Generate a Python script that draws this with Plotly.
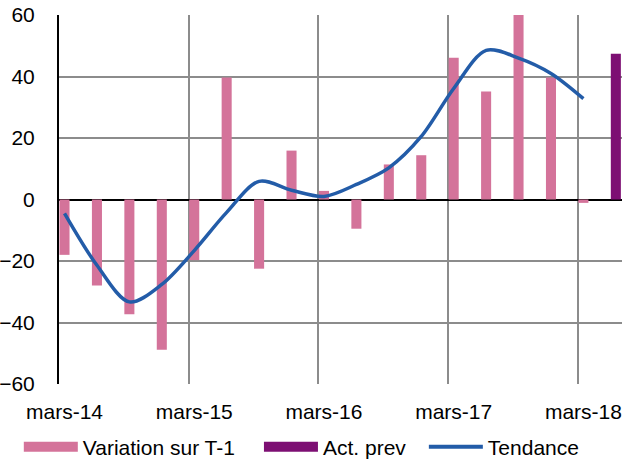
import plotly.graph_objects as go

# Quarterly change vs previous quarter, mars-14 .. juin-18
quarters = list(range(18))
variation = [-18, -28, -37.3, -48.9, -19.7, 39.7, -22.5, 15.9, 2.8, -9.5,
             11.4, 14.4, 46.1, 35.1, 60, 39.7, -1.1, None]
act_prev = [None] * 17 + [47.4]
tendance_x = list(range(17))
tendance = [-4.5, -21.4, -33.3, -27.6, -16.6, -4.2, 5.9, 3.0, 1.0, 4.9,
            10.3, 20.5, 36.1, 48.5, 46.0, 41.0, 32.8]

tick_pos = [0, 4, 8, 12, 16]
tick_labels = ["mars-14", "mars-15", "mars-16", "mars-17", "mars-18"]
year_grid = [3.83, 7.83, 11.83, 15.83]

PINK = "#D4739A"
PURPLE = "#7D0F73"
BLUE = "#235CA8"
GRID = "#8C8C8C"

fig = go.Figure()
fig.add_trace(go.Bar(x=quarters, y=variation, marker_color=PINK,
                     marker_line_width=0, width=0.31, showlegend=False))
fig.add_trace(go.Bar(x=quarters, y=act_prev, marker_color=PURPLE,
                     marker_line_width=0, width=0.31, showlegend=False))
fig.add_trace(go.Scatter(x=tendance_x, y=tendance, mode="lines",
                         line=dict(color=BLUE, width=3.5, shape="spline", smoothing=0.9),
                         showlegend=False))

# legend entries, one small legend each so they can be spaced freely
fig.add_trace(go.Scatter(x=[None], y=[None], mode="lines", name="Variation sur T-1",
                         line=dict(color=PINK, width=10), legend="legend"))
fig.add_trace(go.Scatter(x=[None], y=[None], mode="lines", name="Act. prev",
                         line=dict(color=PURPLE, width=10), legend="legend2"))
fig.add_trace(go.Scatter(x=[None], y=[None], mode="lines", name="Tendance",
                         line=dict(color=BLUE, width=4), legend="legend3"))

leg_common = dict(orientation="h", xref="container", yref="container",
                  xanchor="left", yanchor="middle", y=0.03,
                  itemwidth=54, font=dict(size=21), bgcolor="rgba(0,0,0,0)")

fig.update_layout(
    width=627, height=461,
    margin=dict(l=59, r=5, t=15, b=77, autoexpand=False),
    paper_bgcolor="white", plot_bgcolor="white",
    font=dict(family="Liberation Sans, Arial, sans-serif", size=21, color="black"),
    barmode="overlay",
    legend=dict(x=0.030, **leg_common),
    legend2=dict(x=0.413, **leg_common),
    legend3=dict(x=0.676, **leg_common),
)
fig.update_xaxes(
    range=[-0.17, 17.19], tickmode="array", tickvals=tick_pos, ticktext=tick_labels,
    showgrid=False, zeroline=False, showline=False, ticks="",
    ticklabelstandoff=13, automargin=False,
    minor=dict(tickmode="array", tickvals=year_grid, showgrid=True,
               gridcolor=GRID, gridwidth=2, ticks=""),
)
fig.update_yaxes(
    range=[-60, 60], tickmode="linear", tick0=-60, dtick=20,
    showgrid=True, gridcolor=GRID, gridwidth=2,
    zeroline=True, zerolinecolor="black", zerolinewidth=2,
    showline=True, linecolor="black", linewidth=2,
    ticks="", ticklabelstandoff=18, automargin=False,
)

fig.write_html("out.html")
